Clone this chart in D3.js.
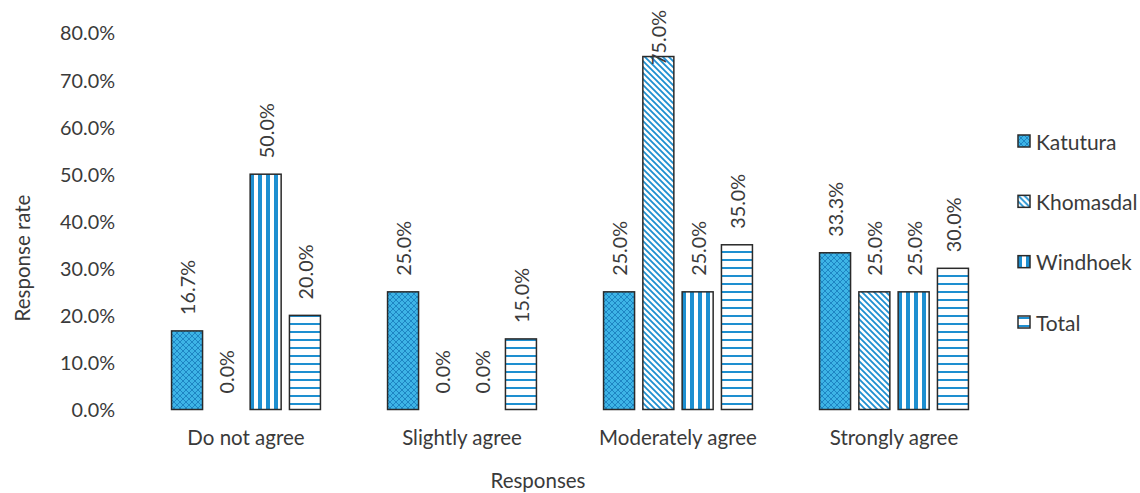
<!DOCTYPE html>
<html>
<head>
<meta charset="utf-8">
<script src="https://cdn.jsdelivr.net/npm/d3@7"></script>
<style>
  html, body { margin: 0; padding: 0; background: #ffffff; }
  svg { display: block; }
  text { font-family: Lato, "Open Sans", sans-serif; fill: #3a3a3a; }
</style>
</head>
<body>
<svg id="chart" width="1140" height="493"></svg>
<script>
// ---- data ----
const categories = ["Do not agree", "Slightly agree", "Moderately agree", "Strongly agree"];
const seriesNames = ["Katutura", "Khomasdal", "Windhoek", "Total"];
const katutura  = [0.167, 0.25, 0.25, 0.333];
const khomasdal = [0.0,   0.0,  0.75, 0.25];
const windhoek  = [0.50,  0.0,  0.25, 0.25];
const total     = [0.20,  0.15, 0.35, 0.30];
const yTicks = [0, 0.1, 0.2, 0.3, 0.4, 0.5, 0.6, 0.7, 0.8];
const xTitle = "Responses";
const yTitle = "Response rate";

const seriesValues = [katutura, khomasdal, windhoek, total];

const svg = d3.select("#chart");
const blue = "#1e8fd0";
const cyan = "#3db4e6";

// ---- patterns ----
const defs = svg.append("defs");
// Katutura: small diamond grid on cyan
const p0 = defs.append("pattern").attr("id", "pat0").attr("patternUnits", "userSpaceOnUse")
  .attr("width", 6).attr("height", 6);
p0.append("rect").attr("width", 6).attr("height", 6).attr("fill", cyan);
p0.append("path").attr("d", "M0,0 L6,6 M6,0 L0,6").attr("stroke", "#1b80bf").attr("stroke-width", 0.9);
// Khomasdal: diagonal "\" stripes
const p1 = defs.append("pattern").attr("id", "pat1").attr("patternUnits", "userSpaceOnUse")
  .attr("width", 6).attr("height", 6);
p1.append("rect").attr("width", 6).attr("height", 6).attr("fill", "#ffffff");
p1.append("path").attr("d", "M-1,-1 L7,7 M-1,5 L1,7 M5,-1 L7,1").attr("stroke", blue).attr("stroke-width", 1.8);
// Windhoek: vertical stripes
const p2 = defs.append("pattern").attr("id", "pat2").attr("patternUnits", "userSpaceOnUse")
  .attr("width", 8).attr("height", 8);
p2.append("rect").attr("width", 8).attr("height", 8).attr("fill", "#ffffff");
p2.append("rect").attr("x", 0).attr("width", 4).attr("height", 8).attr("fill", blue);
// Total: horizontal stripes
const p3 = defs.append("pattern").attr("id", "pat3").attr("patternUnits", "userSpaceOnUse")
  .attr("width", 8).attr("height", 8);
p3.append("rect").attr("width", 8).attr("height", 8).attr("fill", "#ffffff");
p3.append("rect").attr("y", 3).attr("width", 8).attr("height", 2).attr("fill", blue);

const fills = ["url(#pat0)", "url(#pat1)", "url(#pat2)", "url(#pat3)"];

// ---- scales ----
const y = d3.scaleLinear().domain([0, 0.8]).range([409.5, 33]);
const x0 = d3.scaleBand().domain(categories).range([138, 1002]).padding(0);
const x1 = d3.scaleBand().domain(seriesNames).range([0, x0.bandwidth()])
  .paddingInner(0.211).paddingOuter(0.854);

const fmt = d3.format(".1%");

// ---- y axis labels ----
const yAxis = d3.axisLeft(y).tickValues(yTicks).tickFormat(fmt).tickSize(0).tickPadding(0);
const yg = svg.append("g").attr("transform", "translate(115,0)").call(yAxis);
yg.select(".domain").remove();
yg.selectAll("text").style("font-size", "19.8px").style("font-family", "Lato, sans-serif")
  .attr("fill", "#3a3a3a").attr("dy", "0.35em");

// ---- x axis labels ----
const xAxis = d3.axisBottom(x0).tickSize(0).tickPadding(0);
const xg = svg.append("g").attr("transform", "translate(0,438)").call(xAxis);
xg.select(".domain").remove();
xg.selectAll("text").style("font-size", "20.5px").style("font-family", "Lato, sans-serif")
  .attr("fill", "#3a3a3a").attr("dy", "0.35em").attr("y", 0);

// ---- bars ----
const groups = svg.append("g").selectAll("g").data(categories).join("g")
  .attr("transform", d => `translate(${x0(d)},0)`);

groups.each(function(cat, ci) {
  const g = d3.select(this);
  seriesNames.forEach((s, si) => {
    const v = seriesValues[si][ci];
    if (v > 0) {
      g.append("rect")
        .attr("x", x1(s)).attr("y", y(v))
        .attr("width", x1.bandwidth()).attr("height", y(0) - y(v))
        .attr("fill", fills[si]).attr("stroke", "#2a2a2a").attr("stroke-width", 1.5);
    }
    const cx = x1(s) + x1.bandwidth() / 2;
    const t = g.append("text")
      .attr("text-anchor", "start")
      .attr("dominant-baseline", "central")
      .style("font-size", "19.8px")
      .text(fmt(v));
    const len = t.node().getComputedTextLength();
    let startY = y(v) - 16;
    if (startY - len < 10) startY = 10 + len;
    t.attr("transform", `translate(${cx},${startY}) rotate(-90)`);
  });
});

// ---- titles ----
svg.append("text").attr("x", 538).attr("y", 480).attr("text-anchor", "middle")
  .attr("dominant-baseline", "central").style("font-size", "20.5px").text(xTitle);
svg.append("text").attr("transform", "translate(22,258) rotate(-90)").attr("text-anchor", "middle")
  .attr("dominant-baseline", "central").style("font-size", "20.5px").text(yTitle);

// ---- legend ----
const legendY = d3.scalePoint().domain(seriesNames).range([141, 322]);
const lg = svg.append("g").selectAll("g").data(seriesNames).join("g")
  .attr("transform", d => `translate(1018,${legendY(d)})`);
lg.append("rect").attr("x", 0).attr("y", -6).attr("width", 12).attr("height", 12)
  .attr("fill", (d, i) => fills[i]).attr("stroke", "#2a2a2a").attr("stroke-width", 1.5);
lg.append("text").attr("x", 18).attr("y", 0).attr("dominant-baseline", "central")
  .style("font-size", "21px").text(d => d);
</script>
</body>
</html>
